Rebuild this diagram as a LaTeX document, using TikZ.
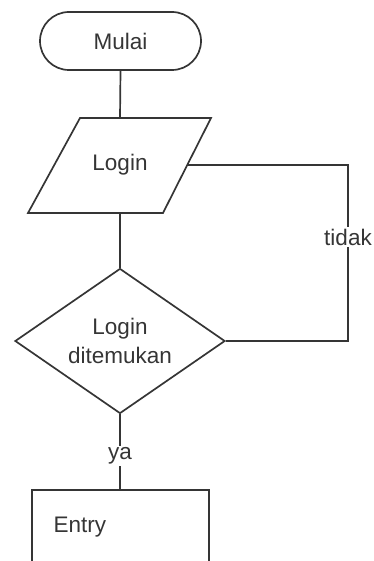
\documentclass[tikz,border=0pt]{standalone}
\usepackage{fontspec}
\setmainfont{Liberation Sans}
\usetikzlibrary{shapes.misc,shapes.geometric}
\definecolor{ink}{HTML}{353535}
\begin{document}
\begin{tikzpicture}[x=1pt,y=-1pt,
  every node/.style={text=ink,font=\fontsize{22.5}{29}\selectfont},
  flow/.style={draw=ink,line width=1.7pt},
  edgelabel/.style={fill=white,inner sep=2pt}]
\useasboundingbox (0,0) rectangle (373,561);
\clip (0,0) rectangle (373,561);
% start terminal
\node[rounded rectangle,flow,minimum width=161,minimum height=58,inner sep=0] (start) at (120.5,41) {Mulai};
% input parallelogram
\coordinate (inTL) at (80,118);
\coordinate (inTR) at (211,118);
\coordinate (inBR) at (163,213);
\coordinate (inBL) at (28,213);
\draw[flow,line join=miter] (inTL) -- (inTR) -- (inBR) -- (inBL) -- cycle;
\node (login) at (120,165) {Login};
\coordinate (inTop) at (120,118);
\coordinate (inBot) at (120,213);
\coordinate (inRight) at (187,165);
% decision
\node[diamond,flow,minimum width=210,minimum height=145,inner sep=0,shape aspect=1.45,align=center] (found) at (120,341) {Login\\ditemukan};
% process box (continues below)
\coordinate (boxTop) at (120,490);
\draw[flow] (32,600) -- (32,490) -- (209,490) -- (209,600);
\node[anchor=west] (entry) at (50,527) {Entry};
% loop-back route on the right
\coordinate (cornerLow) at (348,341);
\coordinate (cornerHigh) at (348,165);
% connectors
\draw[flow] (start.south) -- (inTop);
\draw[flow] (inBot) -- (found.north);
\draw[flow] (found.east) -- (cornerLow) -- (cornerHigh) node[edgelabel,pos=0.59] (no) {tidak} -- (inRight);
\draw[flow] (found.south) -- (boxTop) node[edgelabel,pos=0.55] (yes) {ya};
\end{tikzpicture}
\end{document}
